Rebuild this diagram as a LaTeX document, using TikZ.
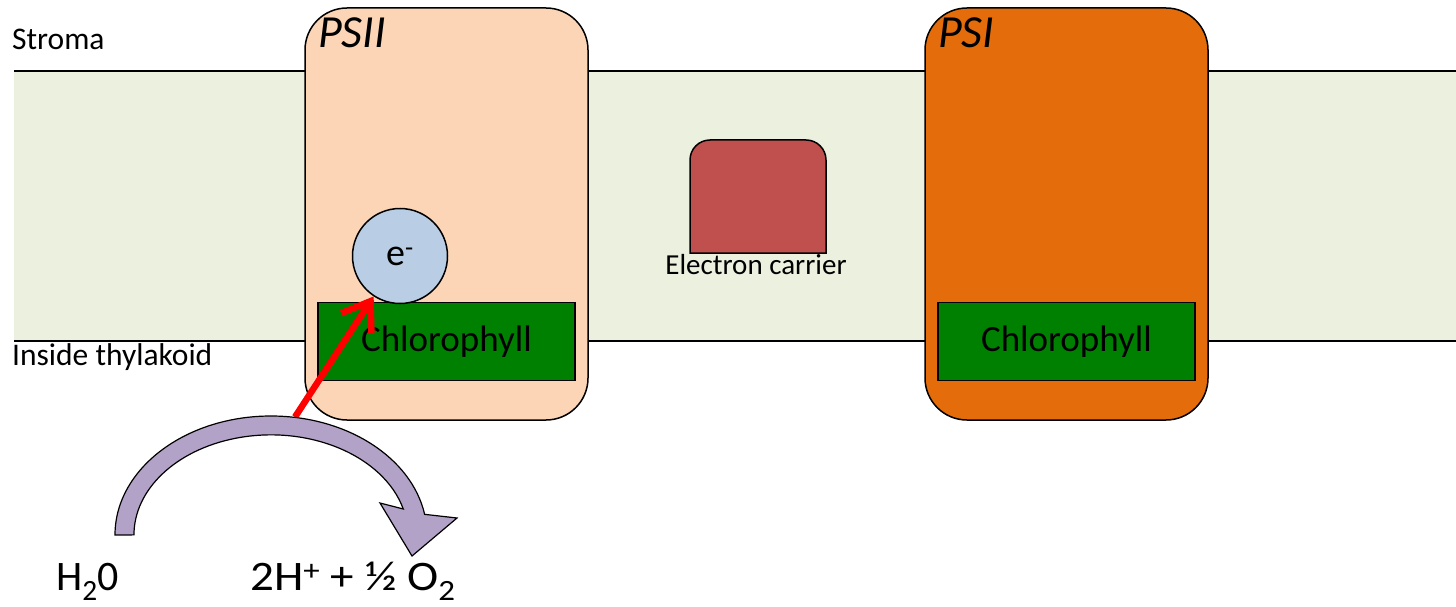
\documentclass[tikz,border=0pt]{standalone}
\usepackage{fontspec}
\setmainfont{Carlito}
\usepackage{xcolor}
\usepackage{tikz}
\usetikzlibrary{shapes,arrows,arrows.meta,positioning}

\definecolor{membranegreen}{HTML}{EBF1DE}
\definecolor{psiilight}{HTML}{FBD5B5}
\definecolor{psiorange}{HTML}{E46C0A}
\definecolor{chlgreen}{HTML}{008000}
\definecolor{eblue}{HTML}{B9CDE5}
\definecolor{carrierred}{HTML}{C0504D}
\definecolor{waterpurple}{HTML}{B3A2C7}

\tikzstyle{photosystem} = [rectangle, draw, line width=1.5pt, rounded corners=42pt, minimum width=283pt, minimum height=412pt, inner sep=0pt]
\tikzstyle{chlorophyll} = [rectangle, draw, line width=1.2pt, fill=chlgreen, minimum width=257pt, minimum height=78pt, font=\fontsize{37}{40}\selectfont]
\tikzstyle{electron} = [circle, draw, line width=1.5pt, fill=eblue, minimum size=95pt, inner sep=0pt, font=\fontsize{38}{42}\selectfont]
\tikzstyle{tag} = [inner sep=0pt, font=\fontsize{31.5}{36}\selectfont]
\tikzstyle{smalltag} = [inner sep=0pt, font=\fontsize{29}{34}\selectfont]
\tikzstyle{title} = [inner sep=0pt, font=\fontsize{46}{50}\selectfont\itshape]
\tikzstyle{equation} = [inner sep=0pt, font=\fontsize{42}{46}\selectfont]
\tikzstyle{redline} = [draw=red, line width=6.5pt, -{Straight Barb[length=26pt, width=36pt]}]
\tikzstyle{waterarrow} = [draw, line width=1.2pt, fill=waterpurple]

\begin{document}
\begin{tikzpicture}[x=1pt, y=-1pt, node distance=40pt]
            \fill[white] (0,0) rectangle (1456,607);
            \useasboundingbox (0,0) rectangle (1456,607);

            % membrane
            \fill[membranegreen] (14,71) rectangle (1456,341);
            \draw[line width=1.5pt] (14,71) -- (1456,71);
            \draw[line width=1.5pt] (14,341) -- (1456,341);

            \node[tag, anchor=base west] (stroma) at (12,50) {Stroma};
            \node[tag, anchor=base west] (inside) at (12,365) {Inside thylakoid};

            % photosystems
            \node[photosystem, fill=psiilight] (psii) at (446.5,214) {};
            \node[photosystem, fill=psiorange] (psi) at (1066.5,214) {};
            \node[title, anchor=base west] (psiilabel) at (318,48) {PSII};
            \node[title, anchor=base west] (psilabel) at (938,48) {PSI};

            \node[chlorophyll, above=of psii.south] (chlii) {Chlorophyll};
            \node[chlorophyll, above=of psi.south] (chli) {Chlorophyll};

            \node[electron] (electron) at (400,256) {e\textsuperscript{-}};

            % electron carrier
            \draw[line width=1.5pt, fill=carrierred] (690,253) -- (690,160)
                arc[start angle=180, end angle=90, radius=20pt] -- (806,140)
                arc[start angle=90, end angle=0, radius=20pt] -- (826,253) -- cycle;
            \node[smalltag, anchor=base] (carrierlabel) at (756,274) {Electron carrier};

            % water splitting
            \coordinate (redtail) at (295,417);
            \path[redline] (redtail) -- (electron);

            \draw[waterarrow] (115,535)
                arc[start angle=180, end angle=10, x radius=156pt, y radius=119pt]
                -- (457,518) -- (412,556) -- (380,503) -- (403.3,509)
                arc[start angle=15, end angle=180, x radius=137pt, y radius=100pt] -- cycle;

            \node[equation, anchor=base west] (water) at (56,590) {H\textsubscript{2}0};
            \node[equation, anchor=base west] (products) at (250,590) {\scalebox{1.12}[1]{2H\textsuperscript{+} + ½ O\textsubscript{2}}};

        \end{tikzpicture}
\end{document}
